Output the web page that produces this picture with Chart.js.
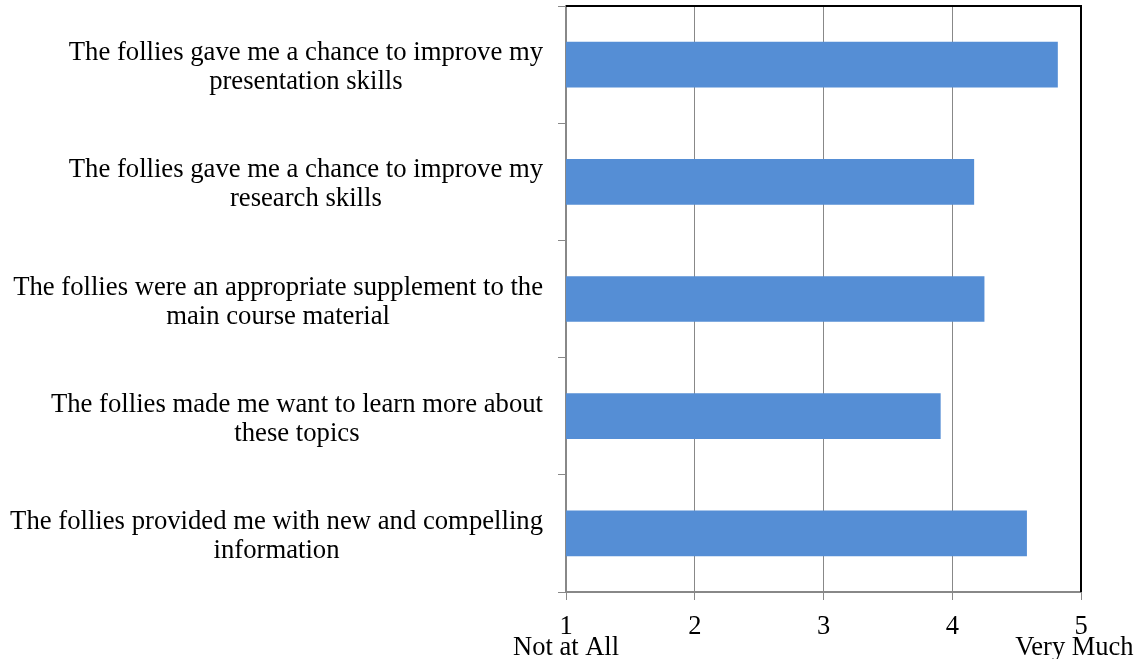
<!DOCTYPE html>
<html>
<head>
<meta charset="utf-8">
<script src="https://cdn.jsdelivr.net/npm/chart.js@4/dist/chart.umd.min.js"></script>
<style>
html,body{margin:0;padding:0;background:#fff;}
#wrap{width:1140px;height:659px;position:relative;}
</style>
</head>
<body>
<div id="wrap"><canvas id="c" width="1140" height="659"></canvas></div>
<script>
const categories = [
  ["The follies gave me a chance to improve my", "presentation skills"],
  ["The follies gave me a chance to improve my", "research skills"],
  ["The follies were an appropriate supplement to the", "main course material"],
  ["The follies made me want to learn more about", "these topics"],
  ["The follies provided me with new and compelling", "information"]
];
const values = [4.82, 4.17, 4.25, 3.91, 4.58];
const tickValues = [1, 2, 3, 4, 5];
const tickLabels = {1: ["1", "Not at All"], 2: "2", 3: "3", 4: "4", 5: ["5", "Very Much\u00A0\u00A0"]};

const FONT = "'Liberation Serif', 'Times New Roman', serif";
const GRAY = "#888888";

const labelPlugin = {
  id: 'catLabels',
  afterDraw(chart) {
    const ctx = chart.ctx;
    const ys = chart.scales.y;
    const ca = chart.chartArea;
    ctx.save();
    // top and right borders of plot area
    ctx.strokeStyle = "#000000";
    ctx.lineWidth = 2;
    ctx.beginPath();
    ctx.moveTo(ca.left, ca.top);
    ctx.lineTo(ca.right, ca.top);
    ctx.lineTo(ca.right, ca.bottom);
    ctx.stroke();
    // category labels, each block centred on its widest line
    ctx.font = "26.7px " + FONT;
    ctx.fillStyle = "#000000";
    ctx.textAlign = "center";
    ctx.textBaseline = "middle";
    const lh = 29;
    const rightEdge = ca.left - 23;
    categories.forEach((lines, i) => {
      const y = ys.getPixelForValue(i) + 3;
      const maxW = Math.max(...lines.map(l => ctx.measureText(l).width));
      const cx = rightEdge - maxW / 2;
      const y0 = y - (lines.length - 1) * lh / 2;
      lines.forEach((l, k) => ctx.fillText(l, cx, y0 + k * lh));
    });
    ctx.restore();
  }
};

new Chart(document.getElementById('c'), {
  type: 'bar',
  data: {
    labels: categories.map(c => c.join(' ')),
    datasets: [{
      data: values,
      backgroundColor: '#558ED5',
      borderWidth: 0,
      categoryPercentage: 1.0,
      barPercentage: 0.39
    }]
  },
  options: {
    indexAxis: 'y',
    responsive: false,
    animation: false,
    devicePixelRatio: 1,
    layout: { padding: { top: 6, right: 59, left: 0, bottom: 0 } },
    plugins: { legend: { display: false }, tooltip: { enabled: false } },
    scales: {
      x: {
        type: 'linear',
        min: 1,
        max: 5,
        afterBuildTicks(s) { s.ticks = tickValues.map(v => ({ value: v })); },
        afterFit(s) { s.height = 67; s.paddingLeft = 0; s.paddingRight = 0; },
        grid: { color: GRAY, lineWidth: 1, drawTicks: true, tickLength: 8, tickColor: GRAY },
        border: { color: GRAY, width: 2 },
        ticks: {
          color: '#000000',
          font: { family: FONT, size: 26.5, lineHeight: 0.8 },
          padding: 16,
          maxRotation: 0,
          autoSkip: false,
          callback: v => tickLabels[v]
        }
      },
      y: {
        type: 'category',
        offset: true,
        afterFit(s) { s.width = 566; },
        grid: { drawOnChartArea: false, drawTicks: true, tickLength: 8, tickColor: GRAY, offset: true },
        border: { color: GRAY, width: 2 },
        ticks: { display: false }
      }
    }
  },
  plugins: [labelPlugin]
});
</script>
</body>
</html>
